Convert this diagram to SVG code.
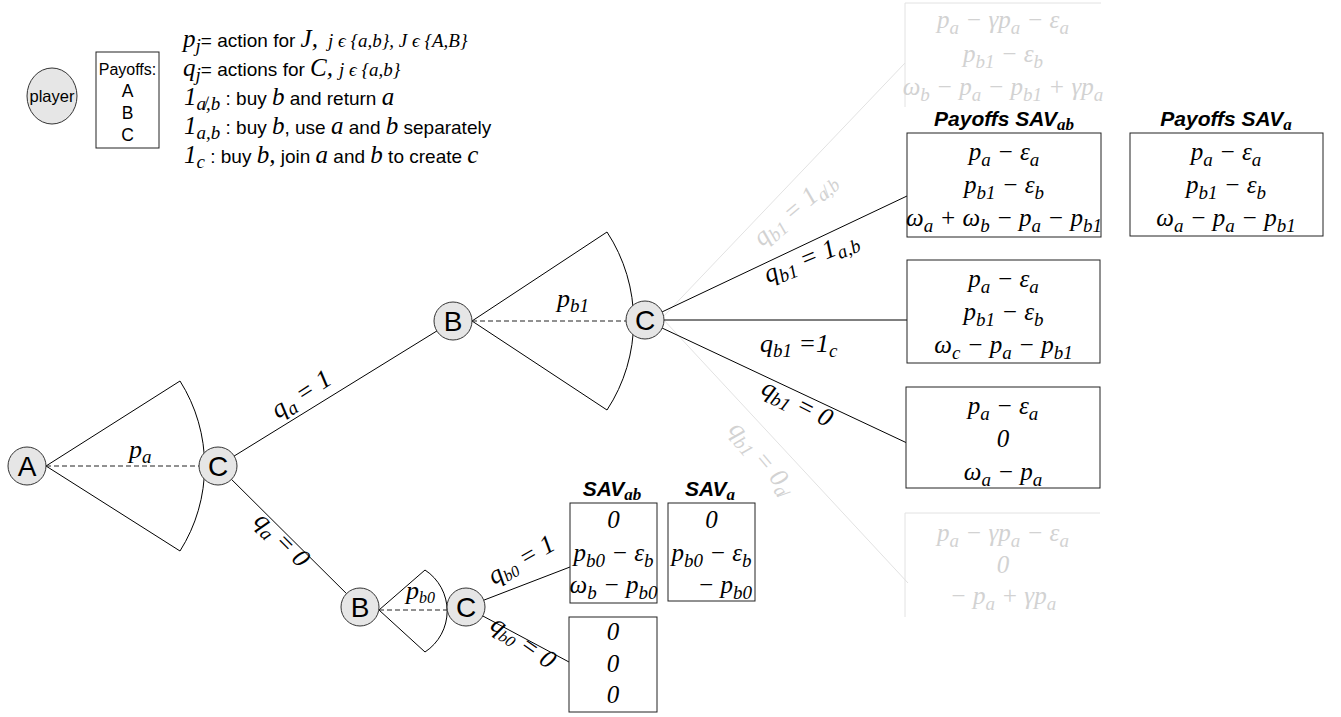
<svg xmlns="http://www.w3.org/2000/svg" width="1341" height="717" viewBox="0 0 1341 717">
<style>
.ln{stroke:#000;stroke-width:1;fill:none}
.dash{stroke:#222;stroke-width:1;stroke-dasharray:5 3;fill:none}
.fade{stroke:#e2e2e2;stroke-width:1;fill:none}
.box{fill:#fff;stroke:#222;stroke-width:1}
.nd{fill:#e6e6e6;stroke:#333;stroke-width:1}
.nl{font-family:"Liberation Sans",Arial,sans-serif;font-size:28px;text-anchor:middle;fill:#000}
.m{font-family:"Liberation Serif","Times New Roman",serif;font-style:italic;font-size:25px;fill:#000}
.lb{font-family:"Liberation Serif","Times New Roman",serif;font-style:italic;font-size:26px;fill:#000}
.c{text-anchor:middle}
.s{font-size:19px}
.ft{fill:#d2d2d2}
.hd{font-family:"Liberation Sans",Arial,sans-serif;font-weight:bold;font-style:italic;font-size:21px;text-anchor:middle;fill:#000}
.hs{font-family:"Liberation Serif","Times New Roman",serif;font-weight:bold;font-style:italic;font-size:17px}
.sans{font-family:"Liberation Sans",Arial,sans-serif;font-style:normal;font-size:19px}
.lg{font-family:"Liberation Serif","Times New Roman",serif;font-style:italic;font-size:25px;fill:#000}
.sm{font-size:19px}
</style>

<g id="legend">
  <ellipse class="nd" cx="52" cy="96" rx="25" ry="28"/>
  <text x="52" y="102" font-family="Liberation Sans, Arial, sans-serif" font-size="16.5" text-anchor="middle">player</text>
  <rect class="box" x="96" y="52" width="63" height="96"/>
  <g font-family="Liberation Sans, Arial, sans-serif" text-anchor="middle">
    <text x="127.5" y="75" font-size="16">Payoffs:</text>
    <text x="127.5" y="97" font-size="17.5">A</text>
    <text x="127.5" y="119" font-size="17.5">B</text>
    <text x="127.5" y="141" font-size="17.5">C</text>
  </g>
  <text class="lg" x="183" y="47">p<tspan class="s" dy="5">j</tspan><tspan class="sans" dy="-5">= action for </tspan>J,<tspan class="sm" dx="10">j ϵ {a,b}, J ϵ {A,B}</tspan></text>
  <text class="lg" x="183" y="76">q<tspan class="s" dy="5">j</tspan><tspan class="sans" dy="-5">= actions for </tspan>C,<tspan class="sm" dx="6">j ϵ {a,b}</tspan></text>
  <text class="lg" x="184" y="105">1<tspan class="s" dy="5">a̸,b</tspan><tspan class="sans" dy="-5"> : buy </tspan>b<tspan class="sans"> and return </tspan>a</text>
  <text class="lg" x="184" y="134">1<tspan class="s" dy="5">a,b</tspan><tspan class="sans" dy="-5"> : buy </tspan>b<tspan class="sans">, use </tspan>a<tspan class="sans"> and </tspan>b<tspan class="sans"> separately</tspan></text>
  <text class="lg" x="184" y="163">1<tspan class="s" dy="5">c</tspan><tspan class="sans" dy="-5"> : buy </tspan>b,<tspan class="sans"> join </tspan>a<tspan class="sans"> and </tspan>b<tspan class="sans"> to create </tspan>c</text>
</g>

<g id="connectors">
  <path class="ln" d="M46,466 L180,381 A159,159 0 0 1 180,551 Z"/>
  <path class="dash" d="M46,466 H199"/>
  <path class="ln" d="M218,466 L453,321"/>
  <path class="ln" d="M218,466 L360,607"/>
  <path class="ln" d="M472,321 L607,232 A162,162 0 0 1 607,410 Z"/>
  <path class="dash" d="M472,321 H626"/>
  <path class="ln" d="M379,610 L425,570 A49,49 0 0 1 425,652 Z"/>
  <path class="dash" d="M379,610 H447"/>
  <path class="fade" d="M662,318 L905,63"/>
  <path class="fade" d="M662,318 L908,583"/>
  <path class="ln" d="M645,320 L907,196"/>
  <path class="ln" d="M645,320 H907"/>
  <path class="ln" d="M645,320 L907,443"/>
  <path class="ln" d="M466,607 L570,567"/>
  <path class="ln" d="M466,607 L569,662"/>
  <path class="fade" d="M905,107 V3 H1101"/>
  <path class="fade" d="M905,617 V513 H1100"/>
</g>

<g id="edge-labels">
  <text class="lb" x="129" y="458">p<tspan class="s" dy="5">a</tspan></text>
  <text class="lb" x="557" y="307">p<tspan class="s" dy="5">b1</tspan></text>
  <text class="lb" x="406" y="599" font-size="21">p<tspan font-size="16" dy="4">b0</tspan></text>
  <text class="lb" transform="translate(278,419) rotate(-33)">q<tspan class="s" dy="5">a</tspan><tspan dy="-5"> = 1</tspan></text>
  <text class="lb" transform="translate(253,522) rotate(45)">q<tspan class="s" dy="5">a</tspan><tspan dy="-5"> = 0</tspan></text>
  <text class="lb" transform="translate(768,283) rotate(-22)">q<tspan class="s" dy="5">b1</tspan><tspan dy="-5"> = 1</tspan><tspan class="s" dy="5">a,b</tspan></text>
  <text class="lb" x="760" y="352">q<tspan class="s" dy="5">b1</tspan><tspan dy="-5"> =1</tspan><tspan class="s" dy="5">c</tspan></text>
  <text class="lb" transform="translate(760,393) rotate(27)">q<tspan class="s" dy="5">b1</tspan><tspan dy="-5"> = 0</tspan></text>
  <text class="lb ft" transform="translate(762,247) rotate(-40)">q<tspan class="s" dy="5">b1</tspan><tspan dy="-5"> = 1</tspan><tspan class="s" dy="5">a̸,b</tspan></text>
  <text class="lb ft" transform="translate(728,430) rotate(50)">q<tspan class="s" dy="5">b1</tspan><tspan dy="-5"> = 0</tspan><tspan class="s" dy="5">a̸</tspan></text>
  <text class="lb" font-size="22" transform="translate(494,585) rotate(-30)">q<tspan font-size="16" dy="4">b0</tspan><tspan dy="-4"> = 1</tspan></text>
  <text class="lb" font-size="22" transform="translate(489,628) rotate(35)">q<tspan font-size="16" dy="4">b0</tspan><tspan dy="-4"> = 0</tspan></text>
</g>

<g id="node-A"><circle class="nd" cx="27" cy="466" r="19"/><text class="nl" x="27" y="476">A</text></g>
<g id="node-C1"><circle class="nd" cx="218" cy="466" r="19"/><text class="nl" x="218" y="476">C</text></g>
<g id="node-B1"><circle class="nd" cx="453" cy="321" r="19"/><text class="nl" x="453" y="331">B</text></g>
<g id="node-C2"><circle class="nd" cx="645" cy="320" r="19"/><text class="nl" x="645" y="330">C</text></g>
<g id="node-B2"><circle class="nd" cx="360" cy="607" r="19"/><text class="nl" x="360" y="617">B</text></g>
<g id="node-C3"><circle class="nd" cx="466" cy="607" r="19"/><text class="nl" x="466" y="617">C</text></g>

<g id="payoff-faded-top">
  <text class="m c ft" x="1003" y="28">p<tspan class="s" dy="6">a</tspan><tspan dy="-6"> − γp</tspan><tspan class="s" dy="6">a</tspan><tspan dy="-6"> − ε</tspan><tspan class="s" dy="6">a</tspan></text>
  <text class="m c ft" x="1003" y="62">p<tspan class="s" dy="6">b1</tspan><tspan dy="-6"> − ε</tspan><tspan class="s" dy="6">b</tspan></text>
  <text class="m c ft" x="1003" y="95">ω<tspan class="s" dy="6">b</tspan><tspan dy="-6"> − p</tspan><tspan class="s" dy="6">a</tspan><tspan dy="-6"> − p</tspan><tspan class="s" dy="6">b1</tspan><tspan dy="-6"> + γp</tspan><tspan class="s" dy="6">a</tspan></text>
</g>

<g id="payoff-1ab">
  <text class="hd" x="1004" y="126">Payoffs SAV<tspan class="hs" dy="4">ab</tspan></text>
  <rect class="box" x="907" y="133" width="194" height="104"/>
  <text class="m c" x="1004" y="160">p<tspan class="s" dy="6">a</tspan><tspan dy="-6"> − ε</tspan><tspan class="s" dy="6">a</tspan></text>
  <text class="m c" x="1004" y="193">p<tspan class="s" dy="6">b1</tspan><tspan dy="-6"> − ε</tspan><tspan class="s" dy="6">b</tspan></text>
  <text class="m c" x="1004" y="226">ω<tspan class="s" dy="6">a</tspan><tspan dy="-6"> + ω</tspan><tspan class="s" dy="6">b</tspan><tspan dy="-6"> − p</tspan><tspan class="s" dy="6">a</tspan><tspan dy="-6"> − p</tspan><tspan class="s" dy="6">b1</tspan></text>
</g>

<g id="payoff-1a">
  <text class="hd" x="1226" y="126">Payoffs SAV<tspan class="hs" dy="4">a</tspan></text>
  <rect class="box" x="1130" y="133" width="193" height="103"/>
  <text class="m c" x="1226" y="160">p<tspan class="s" dy="6">a</tspan><tspan dy="-6"> − ε</tspan><tspan class="s" dy="6">a</tspan></text>
  <text class="m c" x="1226" y="193">p<tspan class="s" dy="6">b1</tspan><tspan dy="-6"> − ε</tspan><tspan class="s" dy="6">b</tspan></text>
  <text class="m c" x="1226" y="226">ω<tspan class="s" dy="6">a</tspan><tspan dy="-6"> − p</tspan><tspan class="s" dy="6">a</tspan><tspan dy="-6"> − p</tspan><tspan class="s" dy="6">b1</tspan></text>
</g>

<g id="payoff-1c">
  <rect class="box" x="907" y="260" width="193" height="103"/>
  <text class="m c" x="1003.5" y="287">p<tspan class="s" dy="6">a</tspan><tspan dy="-6"> − ε</tspan><tspan class="s" dy="6">a</tspan></text>
  <text class="m c" x="1003.5" y="320">p<tspan class="s" dy="6">b1</tspan><tspan dy="-6"> − ε</tspan><tspan class="s" dy="6">b</tspan></text>
  <text class="m c" x="1003.5" y="353">ω<tspan class="s" dy="6">c</tspan><tspan dy="-6"> − p</tspan><tspan class="s" dy="6">a</tspan><tspan dy="-6"> − p</tspan><tspan class="s" dy="6">b1</tspan></text>
</g>

<g id="payoff-10">
  <rect class="box" x="906" y="387" width="194" height="101"/>
  <text class="m c" x="1003" y="414">p<tspan class="s" dy="6">a</tspan><tspan dy="-6"> − ε</tspan><tspan class="s" dy="6">a</tspan></text>
  <text class="m c" x="1003" y="447">0</text>
  <text class="m c" x="1003" y="480">ω<tspan class="s" dy="6">a</tspan><tspan dy="-6"> − p</tspan><tspan class="s" dy="6">a</tspan></text>
</g>

<g id="payoff-faded-bottom">
  <text class="m c ft" x="1003" y="541">p<tspan class="s" dy="6">a</tspan><tspan dy="-6"> − γp</tspan><tspan class="s" dy="6">a</tspan><tspan dy="-6"> − ε</tspan><tspan class="s" dy="6">a</tspan></text>
  <text class="m c ft" x="1003" y="573">0</text>
  <text class="m c ft" x="1003" y="604">− p<tspan class="s" dy="6">a</tspan><tspan dy="-6"> + γp</tspan><tspan class="s" dy="6">a</tspan></text>
</g>

<g id="payoff-01ab">
  <text class="hd" x="612" y="496">SAV<tspan class="hs" dy="4">ab</tspan></text>
  <rect class="box" x="570" y="503" width="87" height="100"/>
  <text class="m c" x="613.5" y="528">0</text>
  <text class="m c" x="613.5" y="561">p<tspan class="s" dy="6">b0</tspan><tspan dy="-6"> − ε</tspan><tspan class="s" dy="6">b</tspan></text>
  <text class="m c" x="613.5" y="593">ω<tspan class="s" dy="6">b</tspan><tspan dy="-6"> − p</tspan><tspan class="s" dy="6">b0</tspan></text>
</g>

<g id="payoff-01a">
  <text class="hd" x="710" y="496">SAV<tspan class="hs" dy="4">a</tspan></text>
  <rect class="box" x="668" y="503" width="87" height="98"/>
  <text class="m c" x="711.5" y="528">0</text>
  <text class="m c" x="711.5" y="561">p<tspan class="s" dy="6">b0</tspan><tspan dy="-6"> − ε</tspan><tspan class="s" dy="6">b</tspan></text>
  <text class="m" x="752" y="593" text-anchor="end">− p<tspan class="s" dy="6">b0</tspan></text>
</g>

<g id="payoff-00">
  <rect class="box" x="569" y="617" width="88" height="95"/>
  <text class="m c" x="613" y="640">0</text>
  <text class="m c" x="613" y="672">0</text>
  <text class="m c" x="613" y="703">0</text>
</g>
</svg>
